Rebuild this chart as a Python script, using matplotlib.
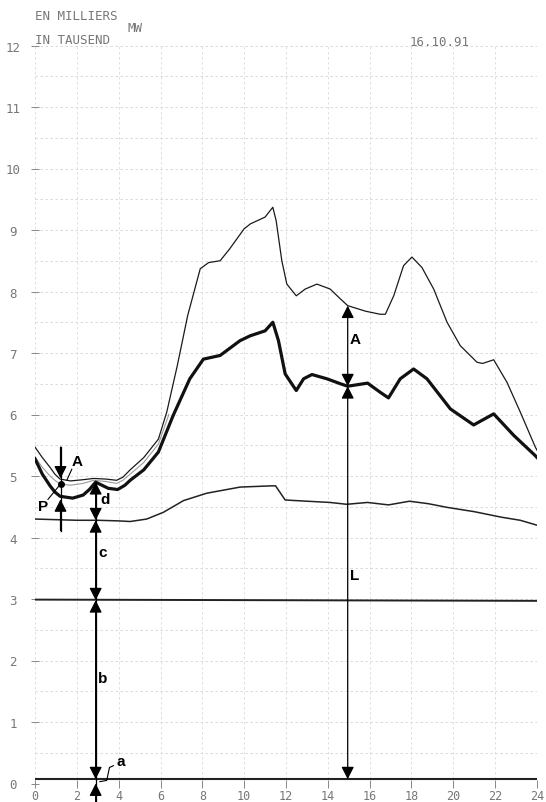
import matplotlib
matplotlib.use("Agg")
import matplotlib.pyplot as plt
from matplotlib.patches import FancyArrowPatch, ArrowStyle
from matplotlib.ticker import MultipleLocator

# --- donnees (heures, milliers de MW) ---
top_h = [0, 0.35, 0.72, 0.95, 1.2, 1.7, 2.3, 2.8, 3.4, 3.9, 4.2, 4.55, 5.2, 5.9, 6.3,
         6.8, 7.3, 7.9, 8.3, 8.85, 9.3, 10.0, 10.3, 11.0, 11.37, 11.53, 11.8, 12.04,
         12.49, 12.92, 13.48, 14.11, 14.6, 14.95, 15.8, 16.5, 16.75, 17.15, 17.62, 18.02,
         18.5, 19.06, 19.7, 20.33, 21.13, 21.4, 21.93, 22.57, 23.2, 23.92, 24.0]
top_v = [5.47, 5.3, 5.14, 5.03, 4.95, 4.92, 4.94, 4.96, 4.95, 4.93, 4.98, 5.1, 5.3, 5.6,
         6.04, 6.79, 7.61, 8.37, 8.47, 8.5, 8.69, 9.02, 9.1, 9.21, 9.37, 9.15, 8.5, 8.12,
         7.93, 8.04, 8.12, 8.04, 7.88, 7.77, 7.68, 7.63, 7.63, 7.93, 8.42, 8.56, 8.39,
         8.04, 7.5, 7.12, 6.85, 6.83, 6.89, 6.52, 6.04, 5.47, 5.42]

mid_h = [0, 0.35, 0.72, 0.95, 1.2, 1.7, 2.3, 2.8, 3.4, 3.9, 4.2, 4.55, 5.2, 5.9, 6.4]
mid_v = [5.31, 5.14, 5.0, 4.93, 4.87, 4.85, 4.88, 4.93, 4.91, 4.88, 4.93, 5.03, 5.22,
         5.52, 6.0]

thick_h = [0, 0.35, 0.72, 0.95, 1.2, 1.8, 2.3, 2.6, 2.9, 3.2, 3.5, 3.95, 4.3, 4.55, 5.2,
           5.9, 6.6, 7.4, 8.05, 8.85, 9.8, 10.29, 11.0, 11.37, 11.64, 11.96, 12.49,
           12.84, 13.24, 13.96, 14.6, 14.95, 15.9, 16.51, 16.9, 17.46, 18.1, 18.74, 19.86,
           20.97, 21.93, 22.89, 23.92, 24.0]
thick_v = [5.28, 5.03, 4.84, 4.74, 4.67, 4.64, 4.69, 4.78, 4.9, 4.85, 4.8, 4.78, 4.85,
           4.93, 5.1, 5.39, 5.98, 6.58, 6.9, 6.96, 7.2, 7.28, 7.36, 7.5, 7.2, 6.66, 6.39,
           6.58, 6.65, 6.58, 6.5, 6.46, 6.51, 6.36, 6.27, 6.58, 6.74, 6.58, 6.09, 5.83,
           6.01, 5.66, 5.33, 5.3]

base_h = [0, 1, 2, 3, 4, 4.55, 5.34, 6.14, 7.1, 8.21, 9.81, 11.32, 11.5, 11.96, 13.0,
          14.1, 14.9, 15.9, 16.9, 17.9, 18.8, 19.7, 21.0, 22.3, 23.2, 24.0]
base_v = [4.3, 4.29, 4.28, 4.28, 4.27, 4.26, 4.3, 4.41, 4.6, 4.72, 4.82, 4.84, 4.84,
          4.61, 4.59, 4.57, 4.54, 4.57, 4.53, 4.59, 4.55, 4.49, 4.42, 4.33, 4.28, 4.2]

line3_h = [0, 24]
line3_v = [2.99, 2.97]
linea_h = [0, 24]
linea_v = [0.07, 0.07]

x_ticks = list(range(0, 25, 2))
y_ticks = list(range(0, 13))

# cotes (dimension arrows)
h_pa = 1.22
h_d = 2.9
h_L = 14.95
v_top_pa, v_mid_pa, v_low_pa = 4.96, 4.87, 4.62
v_d = 4.9
v_base = 4.28
v_3 = 2.98
v_a = 0.07
v_A_top, v_A_low = 7.77, 6.46

gray_txt = "#777777"

fig = plt.figure(figsize=(5.46, 8.03), dpi=100)
ax = fig.add_axes([35 / 546, (803 - 784.5) / 803, 502 / 546, (784.5 - 46.5) / 803])
ax.set_xlim(0, 24)
ax.set_ylim(0, 12)

for s in ax.spines.values():
    s.set_visible(False)

ax.set_xticks(x_ticks)
ax.set_yticks(y_ticks)
ax.set_xticklabels([str(t) for t in x_ticks])
ax.set_yticklabels([str(t) for t in y_ticks])
ax.yaxis.set_minor_locator(MultipleLocator(0.5))
ax.tick_params(which="minor", length=0)
ax.tick_params(axis="x", direction="inout", length=6, width=0.7, colors="#888888",
               labelcolor=gray_txt, labelsize=8.5, pad=1)
ax.tick_params(axis="y", direction="inout", length=6, width=0.7, colors="#888888",
               labelcolor=gray_txt, labelsize=9, pad=13)
for lab in ax.get_xticklabels() + ax.get_yticklabels():
    lab.set_family("DejaVu Sans Mono")
for lab in ax.get_yticklabels():
    lab.set_horizontalalignment("center")

ax.grid(True, which="both", axis="y", color="#d4d4d4", lw=0.6, ls=(0, (3, 3)))
ax.grid(True, which="major", axis="x", color="#dadada", lw=0.6, ls=(0, (3, 3)))
ax.set_axisbelow(True)

# courbes
ax.plot(linea_h, linea_v, color="#222222", lw=1.5)
ax.plot(line3_h, line3_v, color="#222222", lw=1.4)
ax.plot(base_h, base_v, color="#222222", lw=1.1)
ax.plot(mid_h, mid_v, color="#9a9a9a", lw=0.8)
ax.plot(top_h, top_v, color="#1a1a1a", lw=0.9)
ax.plot(thick_h, thick_v, color="#111111", lw=2.3)


def cote(h, v0, v1, style):
    arr = FancyArrowPatch((h, v0), (h, v1),
                          arrowstyle=ArrowStyle(style, head_length=7.5, head_width=3.8),
                          mutation_scale=1, shrinkA=0, shrinkB=0, lw=0.9,
                          color="black", clip_on=False, zorder=5)
    ax.add_patch(arr)


# fleche P / A
ax.plot([h_pa, h_pa], [5.47, 4.11], color="black", lw=0.9, zorder=5)
cote(h_pa, 5.47, v_top_pa, "-|>")
cote(h_pa, 4.11, v_low_pa, "-|>")
ax.plot([h_pa], [v_mid_pa], "o", color="black", ms=4, zorder=6)
ax.plot([1.52, 1.76], [4.93, 5.11], color="black", lw=0.8)
ax.plot([0.62, 1.15], [4.62, 4.84], color="black", lw=0.8)

# fleches d, c, b, a
ax.plot([h_d, h_d], [v_d, -0.3], color="black", lw=0.9, zorder=5, clip_on=False)
cote(h_d, v_base, v_d, "<|-|>")
cote(h_d, v_3, v_base, "<|-|>")
cote(h_d, v_a, v_3, "<|-|>")
cote(h_d, -0.3, 0.0, "-|>")
ax.plot([3.1, 3.43, 3.56, 3.75], [0.03, 0.05, 0.26, 0.29], color="black", lw=0.8)

# fleches A, L
cote(h_L, v_A_low, v_A_top, "<|-|>")
cote(h_L, v_a, v_A_low, "<|-|>")

lbl = dict(fontsize=11, fontweight="bold", family="Liberation Sans", color="black",
           ha="center", va="center", zorder=7)
ax.text(2.0, 5.25, "A", **lbl)
ax.text(0.38, 4.52, "P", **lbl)
ax.text(3.35, 4.63, "d", **lbl)
ax.text(3.25, 3.76, "c", **lbl)
ax.text(3.25, 1.72, "b", **lbl)
ax.text(4.1, 0.36, "a", **lbl)
ax.text(15.3, 7.23, "A", **lbl)
ax.text(15.3, 3.39, "L", **lbl)

# en-tete
hdr = dict(fontsize=9, family="DejaVu Sans Mono", color=gray_txt, va="center")
fig.text(35 / 546, 1 - 16 / 803, "EN MILLIERS", **hdr)
fig.text(128 / 546, 1 - 28 / 803, "MW", **hdr)
fig.text(35 / 546, 1 - 40 / 803, "IN TAUSEND", **hdr)
fig.text(410 / 546, 1 - 42 / 803, "16.10.91", **hdr)

fig.savefig("out.png", dpi=100)
